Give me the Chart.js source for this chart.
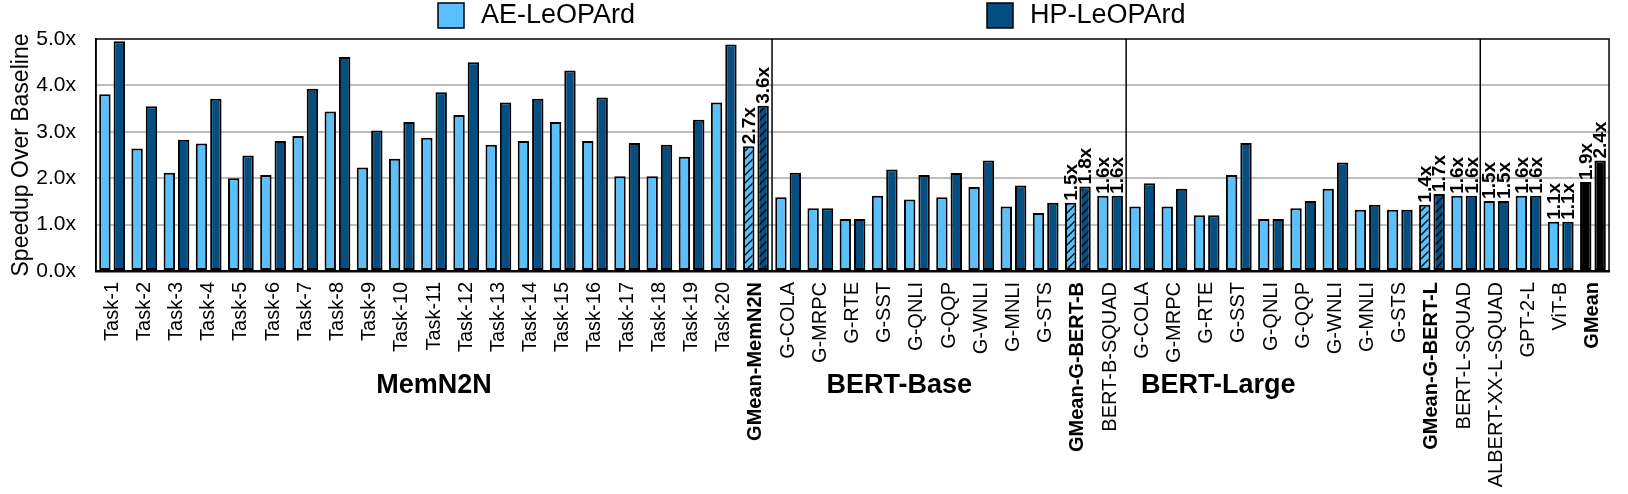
<!DOCTYPE html>
<html>
<head>
<meta charset="utf-8">
<script src="https://cdn.jsdelivr.net/npm/chart.js@4.4.1/dist/chart.umd.min.js"></script>
<style>
  html, body { margin: 0; padding: 0; background: #fff; }
  #wrap { width: 1628px; height: 494px; }
</style>
</head>
<body>
<div id="wrap"><canvas id="chart"></canvas></div>
<script>
// categories, left to right
const categories = [
  'Task-1', 'Task-2', 'Task-3', 'Task-4', 'Task-5', 'Task-6', 'Task-7', 'Task-8', 'Task-9', 'Task-10',
  'Task-11', 'Task-12', 'Task-13', 'Task-14', 'Task-15', 'Task-16', 'Task-17', 'Task-18', 'Task-19', 'Task-20',
  'GMean-MemN2N',
  'G-COLA', 'G-MRPC', 'G-RTE', 'G-SST', 'G-QNLI', 'G-QQP', 'G-WNLI', 'G-MNLI', 'G-STS',
  'GMean-G-BERT-B', 'BERT-B-SQUAD',
  'G-COLA', 'G-MRPC', 'G-RTE', 'G-SST', 'G-QNLI', 'G-QQP', 'G-WNLI', 'G-MNLI', 'G-STS',
  'GMean-G-BERT-L', 'BERT-L-SQUAD',
  'ALBERT-XX-L-SQUAD', 'GPT-2-L', 'ViT-B', 'GMean'
];

const aeValues = [
  3.81, 2.64, 2.12, 2.75, 2.00, 2.07, 2.91, 3.44, 2.23, 2.42,
  2.87, 3.36, 2.72, 2.80, 3.21, 2.80, 2.04, 2.04, 2.46, 3.63,
  2.69,
  1.59, 1.35, 1.12, 1.62, 1.54, 1.59, 1.81, 1.39, 1.25,
  1.47, 1.62,
  1.39, 1.39, 1.20, 2.07, 1.12, 1.35, 1.77, 1.32, 1.32,
  1.43, 1.62,
  1.51, 1.62, 1.06, 1.92
];

const hpValues = [
  4.95, 3.55, 2.83, 3.71, 2.49, 2.80, 3.93, 4.61, 3.03, 3.21,
  3.85, 4.50, 3.63, 3.71, 4.32, 3.74, 2.76, 2.72, 3.26, 4.88,
  3.56,
  2.12, 1.35, 1.12, 2.19, 2.07, 2.11, 2.38, 1.84, 1.47,
  1.82, 1.62,
  1.89, 1.77, 1.20, 2.76, 1.12, 1.51, 2.34, 1.43, 1.32,
  1.66, 1.62,
  1.51, 1.62, 1.06, 2.38
];

const yTicks = [0, 1, 2, 3, 4, 5];

// which bars get special treatment (by index into categories)
const boldIdx = [20, 30, 41, 46];
const hatchIdx = [20, 30, 41];
const blackIdx = [46];
const valueLabelIdx = [20, 30, 31, 41, 42, 43, 44, 45, 46];

const groupNames = ['MemN2N', 'BERT-Base', 'BERT-Large'];
const groupLabelAt = [10, 24.45, 34.36];
const groupBreaks = [20.5, 31.5, 42.5];

const seriesNames = ['AE-LeOPArd', 'HP-LeOPArd'];
const AE_COLOR = '#5AC0FC';
const HP_COLOR = '#054E82';
const FONT = "'Liberation Sans', Arial, Helvetica, sans-serif";

function makeHatch(bg) {
  const c = document.createElement('canvas');
  c.width = 8; c.height = 8;
  const g = c.getContext('2d');
  g.fillStyle = bg;
  g.fillRect(0, 0, 8, 8);
  g.strokeStyle = '#000';
  g.lineWidth = 1.3;
  g.beginPath();
  g.moveTo(0, 8); g.lineTo(8, 0);
  g.moveTo(-2, 2); g.lineTo(2, -2);
  g.moveTo(6, 10); g.lineTo(10, 6);
  g.stroke();
  return g.createPattern(c, 'repeat');
}

const aeHatch = makeHatch(AE_COLOR);
const hpHatch = makeHatch(HP_COLOR);

function barColor(base, hatch) {
  return (ctx) => {
    if (blackIdx.includes(ctx.dataIndex)) return '#000';
    if (hatchIdx.includes(ctx.dataIndex)) return hatch;
    return base;
  };
}

// legend, group names, separators, frame and value labels
const decorations = {
  id: 'decorations',
  afterDatasetsDraw(chart) {
    const { ctx, chartArea: a, scales: { x } } = chart;
    ctx.save();

    ctx.strokeStyle = '#000';
    ctx.lineWidth = 1.5;
    groupBreaks.forEach(b => {
      const px = x.getPixelForValue(b);
      ctx.beginPath();
      ctx.moveTo(px, a.top);
      ctx.lineTo(px, a.bottom);
      ctx.stroke();
    });
    ctx.strokeRect(a.left, a.top, a.right - a.left, a.bottom - a.top);

    ctx.fillStyle = '#000';
    ctx.font = 'bold 19px ' + FONT;
    ctx.textAlign = 'left';
    ctx.textBaseline = 'middle';
    chart.data.datasets.forEach((ds, di) => {
      const meta = chart.getDatasetMeta(di);
      valueLabelIdx.forEach(i => {
        const el = meta.data[i];
        ctx.save();
        ctx.translate(el.x, el.y - 2);
        ctx.rotate(-Math.PI / 2);
        ctx.fillText(ds.data[i].toFixed(1) + 'x', 0, 1);
        ctx.restore();
      });
    });
    ctx.restore();
  },
  afterDraw(chart) {
    const { ctx, scales: { x } } = chart;
    ctx.save();

    ctx.font = 'bold 27px ' + FONT;
    ctx.fillStyle = '#000';
    ctx.textAlign = 'center';
    ctx.textBaseline = 'alphabetic';
    groupNames.forEach((name, i) => {
      ctx.fillText(name, x.getPixelForValue(groupLabelAt[i]), 393);
    });

    const legendItems = [
      { text: seriesNames[0], color: AE_COLOR, x: 438 },
      { text: seriesNames[1], color: HP_COLOR, x: 987 }
    ];
    ctx.font = '27px ' + FONT;
    ctx.textAlign = 'left';
    ctx.textBaseline = 'middle';
    legendItems.forEach(it => {
      ctx.fillStyle = it.color;
      ctx.fillRect(it.x, 3, 26, 25);
      ctx.strokeStyle = '#000';
      ctx.lineWidth = 1.5;
      ctx.strokeRect(it.x, 3, 26, 25);
      ctx.fillStyle = '#000';
      ctx.fillText(it.text, it.x + 43, 16);
    });
    ctx.restore();
  }
};

new Chart(document.getElementById('chart'), {
  type: 'bar',
  data: {
    labels: categories,
    datasets: [
      {
        label: seriesNames[0],
        data: aeValues,
        backgroundColor: barColor(AE_COLOR, aeHatch),
        borderColor: '#000',
        borderWidth: 2,
        borderSkipped: false,
        categoryPercentage: 0.893,
        barPercentage: 0.793
      },
      {
        label: seriesNames[1],
        data: hpValues,
        backgroundColor: barColor(HP_COLOR, hpHatch),
        borderColor: '#000',
        borderWidth: 2,
        borderSkipped: false,
        categoryPercentage: 0.893,
        barPercentage: 0.793
      }
    ]
  },
  options: {
    responsive: true,
    maintainAspectRatio: false,
    animation: false,
    devicePixelRatio: 1,
    layout: { padding: { top: 39, right: 6, left: 0, bottom: 0 } },
    plugins: {
      legend: { display: false },
      tooltip: { enabled: false }
    },
    scales: {
      x: {
        grid: { display: false, drawTicks: false },
        border: { display: true, color: '#000', width: 2.5 },
        afterFit: (scale) => { scale.height = 223; },
        ticks: {
          autoSkip: false,
          maxRotation: 90,
          minRotation: 90,
          padding: 11,
          color: '#000',
          font: (ctx) => ({
            family: FONT,
            size: 20,
            weight: boldIdx.includes(ctx.index) ? 'bold' : 'normal'
          })
        }
      },
      y: {
        min: 0,
        max: 5,
        afterFit: (scale) => { scale.width = 96; },
        afterBuildTicks: (scale) => { scale.ticks = yTicks.map(v => ({ value: v })); },
        grid: {
          color: (ctx) => (ctx.tick && (ctx.tick.value === 0 || ctx.tick.value === 5)) ? 'rgba(0,0,0,0)' : '#bdbdbd',
          lineWidth: 2,
          drawTicks: false
        },
        border: { display: true, color: '#000', width: 1.5 },
        ticks: {
          padding: 20,
          color: '#000',
          font: { family: FONT, size: 21 },
          callback: (v) => v.toFixed(1) + 'x'
        },
        title: {
          display: true,
          text: 'Speedup Over Baseline',
          color: '#000',
          font: { family: FONT, size: 23 },
          padding: { top: 8, bottom: 0 }
        }
      }
    }
  },
  plugins: [decorations]
});
</script>
</body>
</html>
